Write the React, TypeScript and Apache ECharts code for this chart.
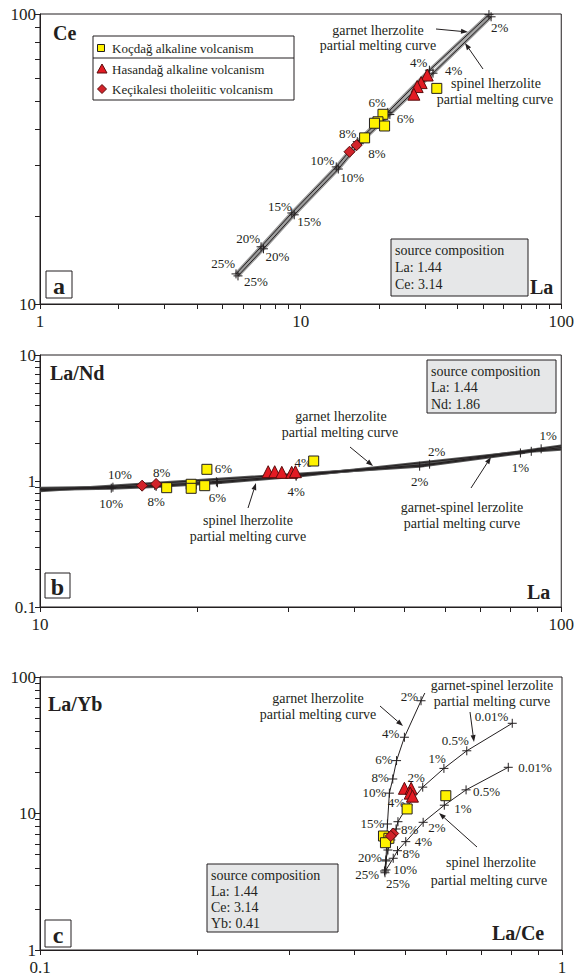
import React, { useEffect, useRef } from 'react';
import * as echarts from 'echarts';

const SERIF = '"Liberation Serif", "DejaVu Serif", serif';
const INK = '#231f20';
const YELLOW = '#fff200';
const RED = '#e31b23';
const PLUS = 'path://M5,0L5,10M0,5L10,5';

// ---------- Panel a : La vs Ce ----------
const aGarnetLa = [5.65, 7.05, 9.25, 13.7, 16.5, 21.6, 31.2, 52.8];
const aGarnetCe = [12.7, 15.75, 20.6, 29.7, 36.3, 45.8, 64.0, 99.5];
const aGarnetLabels = ['25%', '20%', '15%', '10%', '8%', '6%', '4%', ''];
const aSpinelLa = [5.75, 7.2, 9.45, 13.95, 16.8, 22.0, 32.2, 53.8];
const aSpinelCe = [12.5, 15.5, 20.3, 29.2, 35.7, 45.0, 62.5, 97.8];
const aSpinelLabels = ['25%', '20%', '15%', '10%', '8%', '6%', '4%', '2%'];

const aKocLa = [33.3, 20.7, 19.8, 19.2, 21.0, 17.6];
const aKocCe = [55.4, 45.1, 42.5, 42.0, 41.1, 37.4];
const aHasLa = [30.6, 29.0, 28.0, 27.2];
const aHasCe = [61.6, 58.0, 56.2, 52.9];
const aKecLa = [15.4, 16.4];
const aKecCe = [33.5, 35.3];

// ---------- Panel b : La vs La/Nd ----------
const bGarnetLa = [10, 13.8, 16.6, 21.8, 31.0, 55.9, 91.5, 100];
const bGarnetLaNd = [0.875, 0.893, 0.922, 0.985, 1.11, 1.36, 1.8, 1.9];
const bGarnetLabels = [null, '10%', '8%', '6%', '4%', '2%', '1%', null];
const bSpinelLa = [10, 13.7, 16.7, 21.9, 31.0, 100];
const bSpinelLaNd = [0.855, 0.877, 0.905, 0.968, 1.09, 1.84];
const bSpinelLabels = [null, '10%', '8%', '6%', '4%', null];
const bGSLa = [10, 53.5, 83.5, 87.6, 100];
const bGSLaNd = [0.835, 1.31, 1.67, 1.72, 1.79];
const bGSLabels = [null, '2%', '1%', '', null];

const bKocLa = [17.5, 19.5, 19.5, 20.7, 20.9, 33.5];
const bKocLaNd = [0.885, 0.942, 0.875, 0.918, 1.238, 1.441];
const bHasLa = [27.4, 28.2, 29.1, 30.4, 30.9];
const bHasLaNd = [1.185, 1.185, 1.172, 1.172, 1.185];
const bKecLa = [15.7, 16.7];
const bKecLaNd = [0.918, 0.947];

// ---------- Panel c : La/Ce vs La/Yb ----------
const cGarnetLaCe = [0.458, 0.46, 0.463, 0.467, 0.474, 0.482, 0.499, 0.537, 0.546];
const cGarnetLaYb = [3.68, 4.49, 8.38, 14.1, 17.9, 24.4, 36.2, 67.0, 76.3];
const cGarnetLabels = ['25%', '20%', '15%', '10%', '8%', '6%', '4%', '2%', null];
const cGSLaCe = [0.457, 0.46, 0.464, 0.47, 0.481, 0.485, 0.507, 0.541, 0.594, 0.657, 0.803];
const cGSLaYb = [3.79, 4.57, 5.4, 6.4, 7.7, 8.71, 11.5, 15.6, 21.4, 28.8, 45.8];
const cGSLabels = ['', '', '', '', '8%', '', '4%', '2%', '1%', '0.5%', '0.01%'];
const cSpinelLaCe = [0.46, 0.475, 0.484, 0.502, 0.542, 0.595, 0.655, 0.789];
const cSpinelLaYb = [3.86, 4.7, 5.34, 6.22, 8.62, 11.5, 14.9, 21.8];
const cSpinelLabels = ['25%', '10%', '8%', '4%', '2%', '1%', '0.5%', '0.01%'];

const cKocLaCe = [0.599, 0.505, 0.455, 0.466, 0.459];
const cKocLaYb = [13.5, 10.8, 6.84, 6.58, 6.11];
const cHasLaCe = [0.499, 0.514, 0.512, 0.517];
const cHasLaYb = [15.3, 15.3, 14.1, 13.4];
const cKecLaCe = [0.475, 0.47];
const cKecLaYb = [7.14, 6.84];

// ---------- ticks ----------
const ticks1to100 = [1, 2, 3, 4, 5, 6, 7, 8, 9, 10, 20, 30, 40, 50, 60, 70, 80, 90, 100];
const ticks10to100 = [10, 20, 30, 40, 50, 60, 70, 80, 90, 100];
const ticks01to10 = [0.1, 0.2, 0.3, 0.4, 0.5, 0.6, 0.7, 0.8, 0.9, 1, 2, 3, 4, 5, 6, 7, 8, 9, 10];
const ticks01to1 = [0.1, 0.2, 0.3, 0.4, 0.5, 0.6, 0.7, 0.8, 0.9, 1];
const aXLabels = [1, 10, 100];
const aYLabels = [10, 100];
const bXLabels = [10, 100];
const bYLabels = [0.1, 1, 10];
const cXLabels = [0.1, 1];
const cYLabels = [1, 10, 100];

// label placement (layout only)
const aGarnetOffsets = [[-1, -10], [-1, -8], [0, -6], [-2, -6], [-1, -8], [-2, -10], [-2, -8], [0, 0]];
const aSpinelOffsets = [[6, 6], [2, 8], [3, 7], [2, 8], [9, 10], [7, 4], [12, -3], [0, 11]];
const cGarnetOffsets = [[-6, 2], [-4, -3], [-3, 0], [-3, -1], [-4, -1], [-4, -1], [-5, -4], [-3, -4], [0, 0]];
const cGSPlace = [null, null, null, null, ['left', [5, 1]], null, ['right', [-3, -3]], ['right', [2, -10]], ['right', [2, -10]], ['right', [2, -10]], ['right', [-4, -7]]];
const cSpinelOffsets = [[0, 14], [0, 11], [5, 3], [9, 0], [5, 5], [10, 3], [7, 2], [10, 0]];

const fmt = (v: number) => String(parseFloat(Number(v).toPrecision(6)));

function logAxis(idx: number, min: number, max: number, ticks: number[], labels: number[], isX: boolean) {
  return {
    type: 'log', logBase: 10, gridIndex: idx, min, max,
    axisLine: { show: true, onZero: false, lineStyle: { color: INK, width: 1 } },
    axisTick: { show: true, customValues: ticks, length: 5, inside: false, lineStyle: { color: INK, width: 1 } },
    minorTick: { show: false },
    splitLine: { show: false },
    axisLabel: {
      show: true, customValues: labels, fontSize: 17, fontFamily: SERIF, color: INK,
      margin: isX ? 9 : 4, formatter: fmt,
    },
  };
}

function curve(idx: number, xs: number[], ys: number[], labels: (string | null)[], place: (i: number) => [string, number[]]) {
  return {
    type: 'line', xAxisIndex: idx, yAxisIndex: idx, z: 3, silent: true,
    symbolSize: 9, showSymbol: true, showAllSymbol: true,
    lineStyle: { color: INK, width: 1 },
    itemStyle: { color: 'rgba(0,0,0,0)', borderColor: INK, borderWidth: 1 },
    emphasis: { disabled: true },
    data: xs.map((x, i) => {
      const lab = labels[i];
      const p = place(i);
      return {
        value: [x, ys[i]],
        symbol: lab === null ? 'none' : PLUS,
        label: lab
          ? { show: true, formatter: lab, position: 'inside', align: p[0], verticalAlign: 'middle', offset: p[1], fontSize: 13, fontFamily: SERIF, color: INK }
          : { show: false },
      };
    }),
  };
}

function band(idx: number, xs: number[], ys: number[], color: string, width: number) {
  return {
    type: 'line', xAxisIndex: idx, yAxisIndex: idx, z: 2, silent: true, symbol: 'none',
    lineStyle: { color, width }, emphasis: { disabled: true },
    data: xs.map((x, i) => [x, ys[i]]),
  };
}

function pts(idx: number, xs: number[], ys: number[], symbol: string, size: number, color: string, border: string) {
  return {
    type: 'scatter', xAxisIndex: idx, yAxisIndex: idx, z: 5, silent: true,
    symbol, symbolSize: size,
    itemStyle: { color, borderColor: border, borderWidth: 1, opacity: 1 },
    emphasis: { disabled: true },
    data: xs.map((x, i) => [x, ys[i]]),
  };
}

function txt(x: number, y: number, text: string, o: any = {}) {
  const align = o.align || 'center';
  return {
    type: 'text', x, y, z: 20,
    style: {
      text, fill: INK, fontSize: o.size || 14, fontFamily: SERIF, fontWeight: o.bold ? 'bold' : 'normal',
      align, textAlign: align, verticalAlign: 'middle', textVerticalAlign: 'middle',
    },
  };
}

function arrow(x1: number, y1: number, x2: number, y2: number) {
  const dx = x2 - x1, dy = y2 - y1, len = Math.hypot(dx, dy);
  const ux = dx / len, uy = dy / len;
  const hl = 7, hw = 2.5;
  const bx = x2 - ux * hl, by = y2 - uy * hl;
  return [
    { type: 'line', z: 20, shape: { x1, y1, x2: bx, y2: by }, style: { stroke: INK, lineWidth: 1 } },
    { type: 'polygon', z: 20, shape: { points: [[x2, y2], [bx - uy * hw, by + ux * hw], [bx + uy * hw, by - ux * hw]] }, style: { fill: INK } },
  ];
}

function box(x: number, y: number, w: number, h: number, lines: string[], lineH: number) {
  const els: any[] = [{ type: 'rect', z: 15, shape: { x, y, width: w, height: h }, style: { fill: '#e6e7e8', stroke: INK, lineWidth: 1 } }];
  lines.forEach((l, i) => els.push(txt(x + 4, y + 11 + i * lineH, l, { align: 'left' })));
  return els;
}

function letter(x: number, y: number, w: number, h: number, t: string) {
  return [
    { type: 'rect', z: 15, shape: { x, y, width: w, height: h }, style: { fill: '#fff', stroke: INK, lineWidth: 1 } },
    txt(x + w / 2, y + h / 2 + 1, t, { bold: true, size: 24 }),
  ];
}

function buildOption() {
  const grids = [
    { left: 40, top: 14, width: 522, height: 290 },
    { left: 40, top: 355, width: 522, height: 252 },
    { left: 40, top: 677, width: 522, height: 273 },
  ].map((g) => ({ ...g, show: true, borderColor: INK, borderWidth: 1, backgroundColor: 'transparent', containLabel: false }));

  const bUp = () => ['center', [7, -13]] as [string, number[]];
  const bDn = () => ['center', [0, 15]] as [string, number[]];

  const series: any[] = [
    // panel a
    band(0, aGarnetLa, aGarnetCe, '#9a9a9a', 3.5),
    band(0, aSpinelLa, aSpinelCe, '#9a9a9a', 3.5),
    curve(0, aGarnetLa, aGarnetCe, aGarnetLabels, (i) => ['right', aGarnetOffsets[i]]),
    curve(0, aSpinelLa, aSpinelCe, aSpinelLabels, (i) => ['left', aSpinelOffsets[i]]),
    pts(0, aKocLa, aKocCe, 'rect', 10, YELLOW, INK),
    pts(0, aHasLa, aHasCe, 'triangle', 12, RED, '#5a0c0c'),
    pts(0, aKecLa, aKecCe, 'diamond', 11, '#d2232a', '#5a0c0c'),
    // panel b
    band(1, bGarnetLa, bGarnetLaNd, '#555', 3),
    band(1, bSpinelLa, bSpinelLaNd, '#555', 3),
    band(1, bGSLa, bGSLaNd, '#555', 3),
    curve(1, bGarnetLa, bGarnetLaNd, bGarnetLabels, bUp),
    curve(1, bSpinelLa, bSpinelLaNd, bSpinelLabels, bDn),
    curve(1, bGSLa, bGSLaNd, bGSLabels, bDn),
    pts(1, bKocLa, bKocLaNd, 'rect', 10, YELLOW, INK),
    pts(1, bHasLa, bHasLaNd, 'triangle', 12, RED, '#5a0c0c'),
    pts(1, bKecLa, bKecLaNd, 'diamond', 11, '#d2232a', '#5a0c0c'),
    // panel c
    curve(2, cGarnetLaCe, cGarnetLaYb, cGarnetLabels, (i) => ['right', cGarnetOffsets[i]]),
    curve(2, cGSLaCe, cGSLaYb, cGSLabels, (i) => (cGSPlace[i] || ['right', [0, 0]]) as [string, number[]]),
    curve(2, cSpinelLaCe, cSpinelLaYb, cSpinelLabels, (i) => ['left', cSpinelOffsets[i]]),
    pts(2, cKocLaCe, cKocLaYb, 'rect', 10, YELLOW, INK),
    pts(2, cHasLaCe, cHasLaYb, 'triangle', 12, RED, '#5a0c0c'),
    pts(2, cKecLaCe, cKecLaYb, 'diamond', 11, '#d2232a', '#5a0c0c'),
  ];

  const graphic: any[] = [
    // panel a legend
    { type: 'rect', z: 15, shape: { x: 93, y: 36, width: 201, height: 64 }, style: { fill: '#fff', stroke: INK, lineWidth: 1 } },
    { type: 'line', z: 16, shape: { x1: 93, y1: 58, x2: 294, y2: 58 }, style: { stroke: INK, lineWidth: 1 } },
    { type: 'rect', z: 16, shape: { x: 97.5, y: 44.5, width: 7, height: 7 }, style: { fill: YELLOW, stroke: INK, lineWidth: 1 } },
    { type: 'polygon', z: 16, shape: { points: [[102, 64], [107, 73], [97, 73]] }, style: { fill: RED, stroke: '#5a0c0c', lineWidth: 1 } },
    { type: 'polygon', z: 16, shape: { points: [[102, 84.5], [106.5, 89], [102, 93.5], [97.5, 89]] }, style: { fill: '#d2232a', stroke: '#5a0c0c', lineWidth: 1 } },
    txt(112, 48, 'Koçdağ alkaline volcanism', { align: 'left', size: 13 }),
    txt(112, 69, 'Hasandağ alkaline volcanism', { align: 'left', size: 13 }),
    txt(112, 89, 'Keçikalesi tholeiitic volcanism', { align: 'left', size: 13 }),
    // panel a texts
    txt(53, 33, 'Ce', { align: 'left', bold: true, size: 20 }),
    txt(530, 287, 'La', { align: 'left', bold: true, size: 20 }),
    txt(378, 30, 'garnet lherzolite'),
    txt(378, 45, 'partial melting curve'),
    ...arrow(436, 29, 468, 32),
    ...arrow(483, 69, 465, 43),
    txt(496, 83, 'spinel lherzolite'),
    txt(495, 99, 'partial melting curve'),
    ...box(391, 239, 137, 57, ['source composition', 'La: 1.44', 'Ce: 3.14'], 17),
    ...letter(46, 271, 26, 27, 'a'),
    // panel b texts
    txt(50, 373, 'La/Nd', { align: 'left', bold: true, size: 20 }),
    txt(527, 592, 'La', { align: 'left', bold: true, size: 20 }),
    ...box(427, 360, 129, 53, ['source composition', 'La: 1.44', 'Nd: 1.86'], 16.5),
    txt(341, 416, 'garnet lherzolite'),
    txt(340, 432, 'partial melting curve'),
    ...arrow(350, 447, 373, 466),
    txt(248, 520, 'spinel lherzolite'),
    txt(248, 536, 'partial melting curve'),
    ...arrow(248, 508, 256, 483),
    txt(462, 507, 'garnet-spinel lerzolite'),
    txt(462, 523, 'partial melting curve'),
    ...arrow(471, 488, 491, 457),
    ...letter(45, 573, 25, 25, 'b'),
    // panel c texts
    txt(48, 704, 'La/Yb', { align: 'left', bold: true, size: 20 }),
    txt(492, 933, 'La/Ce', { align: 'left', bold: true, size: 20 }),
    txt(318, 698, 'garnet lherzolite'),
    txt(318, 714, 'partial melting curve'),
    ...arrow(380, 706, 403, 726),
    txt(492, 685, 'garnet-spinel lerzolite'),
    txt(492, 701, 'partial melting curve'),
    ...arrow(470, 712, 474, 742),
    txt(491, 862, 'spinel lherzolite'),
    txt(489, 880, 'partial melting curve'),
    ...arrow(477, 847, 439, 813),
    ...box(207, 864, 131, 68, ['source composition', 'La: 1.44', 'Ce: 3.14', 'Yb: 0.41'], 16.3),
    ...letter(45, 920, 26, 27, 'c'),
  ];

  return {
    animation: false,
    backgroundColor: '#fff',
    grid: grids,
    xAxis: [
      logAxis(0, 1, 100, ticks1to100, aXLabels, true),
      logAxis(1, 10, 100, ticks10to100, bXLabels, true),
      logAxis(2, 0.1, 1, ticks01to1, cXLabels, true),
    ],
    yAxis: [
      logAxis(0, 10, 100, ticks10to100, aYLabels, false),
      logAxis(1, 0.1, 10, ticks01to10, bYLabels, false),
      logAxis(2, 1, 100, ticks1to100, cYLabels, false),
    ],
    series,
    graphic,
  };
}

export default function App() {
  const ref = useRef<HTMLDivElement>(null);
  useEffect(() => {
    document.body.style.margin = '0';
    const chart = echarts.init(ref.current as HTMLDivElement, null, { renderer: 'svg' });
    chart.setOption(buildOption() as any);
    return () => chart.dispose();
  }, []);
  return <div ref={ref} style={{ position: 'absolute', left: 0, top: 0, width: 577, height: 979, background: '#fff' }} />;
}
